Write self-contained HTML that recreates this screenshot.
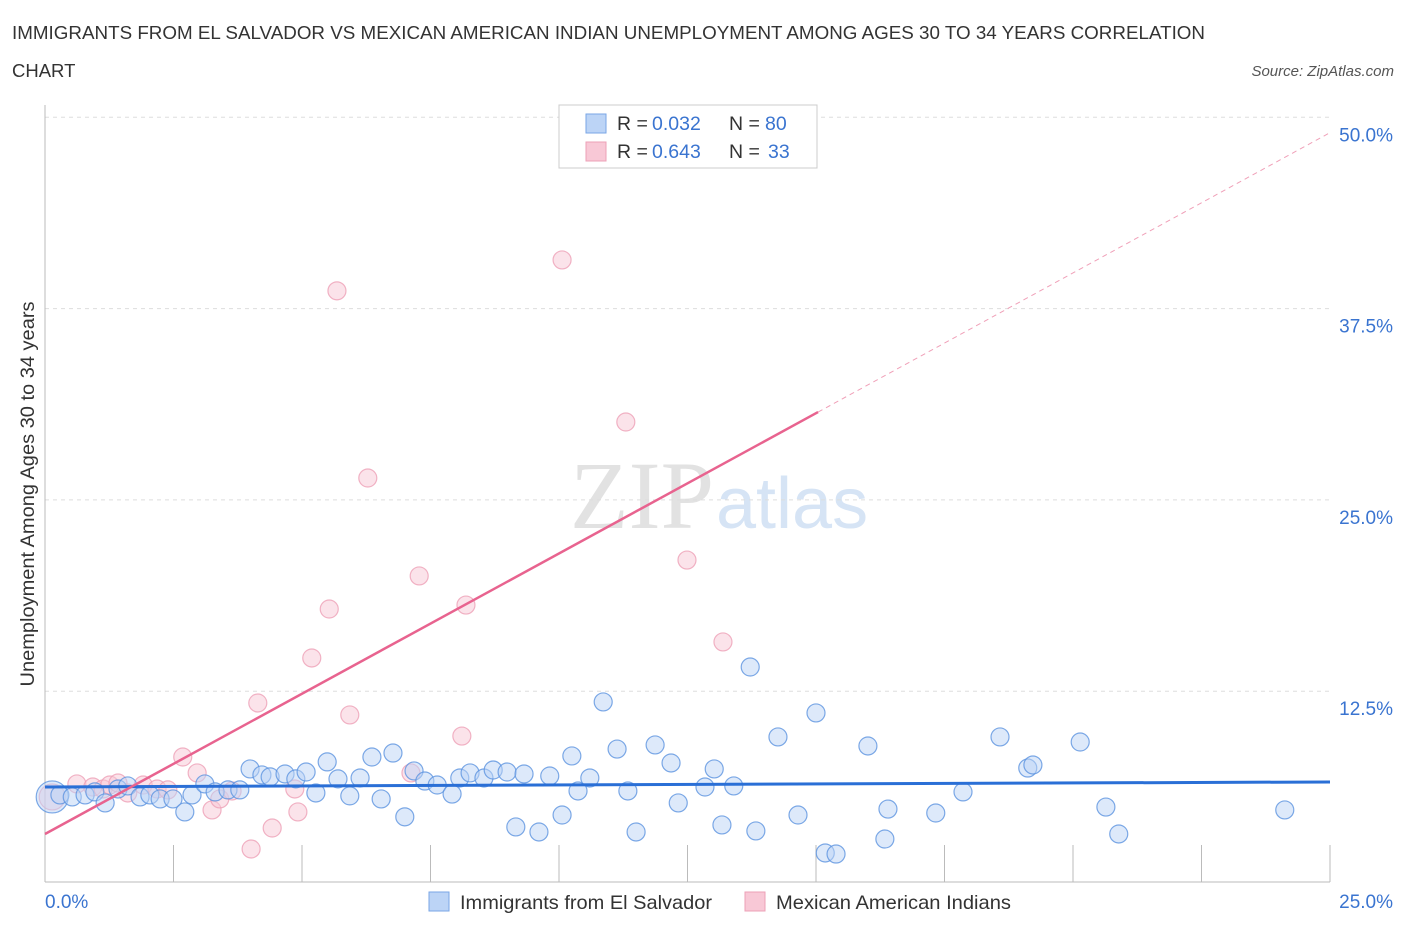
<!DOCTYPE html>
<html><head><meta charset="utf-8"><style>
body{margin:0;background:#fff;font-family:"Liberation Sans",sans-serif;}
svg{display:block}
</style></head><body>
<svg id="chart" width="1406" height="930" xmlns="http://www.w3.org/2000/svg">
<text x="12" y="39" font-size="18.5" fill="#333" textLength="1193" lengthAdjust="spacingAndGlyphs">IMMIGRANTS FROM EL SALVADOR VS MEXICAN AMERICAN INDIAN UNEMPLOYMENT AMONG AGES 30 TO 34 YEARS CORRELATION</text>
<text x="12" y="77" font-size="18.5" fill="#333">CHART</text>
<text x="1394" y="76" font-size="15" fill="#555" font-style="italic" text-anchor="end">Source: ZipAtlas.com</text>
<text x="714" y="528" font-size="96" fill="#e2e2e2" text-anchor="end" font-family="Liberation Serif,serif">ZIP</text>
<text x="716" y="528" font-size="72" fill="#d6e4f5">atlas</text>
<g id="grid"></g>
<g id="axes"></g>
<g id="marks"></g>
<text transform="translate(34,494) rotate(-90)" font-size="19" fill="#333" text-anchor="middle" textLength="385" lengthAdjust="spacingAndGlyphs">Unemployment Among Ages 30 to 34 years</text>
<text x="45" y="908" font-size="19" fill="#3a74d0">0.0%</text>
<text x="1393" y="908" font-size="19" fill="#3a74d0" text-anchor="end">25.0%</text>
<g>
<rect x="559" y="105" width="258" height="63" fill="#fff" stroke="#ccc"/>
<rect x="586" y="114" width="20" height="19" fill="#bcd4f6" stroke="#7aa6e6"/>
<text x="617" y="130" font-size="19.5" fill="#333">R =</text>
<text x="652" y="130" font-size="19.5" fill="#3a74d0">0.032</text>
<text x="729" y="130" font-size="19.5" fill="#333">N =</text>
<text x="765" y="130" font-size="19.5" fill="#3a74d0">80</text>
<rect x="586" y="142" width="20" height="19" fill="#f8c8d6" stroke="#eda0b7"/>
<text x="617" y="158" font-size="19.5" fill="#333">R =</text>
<text x="652" y="158" font-size="19.5" fill="#3a74d0">0.643</text>
<text x="729" y="158" font-size="19.5" fill="#333">N =</text>
<text x="768" y="158" font-size="19.5" fill="#3a74d0">33</text>
</g>
<g>
<rect x="429" y="892" width="20" height="19" fill="#bcd4f6" stroke="#7aa6e6"/>
<text x="460" y="909" font-size="19.5" fill="#333" textLength="252" lengthAdjust="spacingAndGlyphs">Immigrants from El Salvador</text>
<rect x="745" y="892" width="20" height="19" fill="#f8c8d6" stroke="#eda0b7"/>
<text x="776" y="909" font-size="19.5" fill="#333" textLength="235" lengthAdjust="spacingAndGlyphs">Mexican American Indians</text>
</g>
</svg>
<script>
const blueX=[0.14,0.29,0.53,0.78,0.97,1.17,1.42,1.61,1.85,2.04,2.24,2.49,2.72,2.86,3.11,3.31,3.56,3.79,3.99,4.22,4.38,4.67,4.88,5.08,5.27,5.49,5.7,5.93,6.13,6.36,6.54,6.77,7.0,7.18,7.39,7.63,7.92,8.07,8.27,8.54,8.72,8.99,9.16,9.32,9.61,9.82,10.06,10.25,10.37,10.6,10.86,11.13,11.34,11.5,11.87,12.18,12.32,12.84,13.02,13.17,13.4,13.72,13.83,14.26,14.65,15.0,15.18,15.39,16.01,16.34,16.4,17.33,17.86,18.58,19.12,19.22,20.14,20.64,20.89,24.12];
const blueY=[5.59,5.72,5.59,5.72,5.92,5.2,6.11,6.31,5.59,5.72,5.46,5.46,4.61,5.72,6.44,5.92,6.05,6.05,7.42,7.03,6.9,7.09,6.77,7.22,5.85,7.88,6.77,5.66,6.83,8.2,5.46,8.46,4.29,7.29,6.63,6.37,5.78,6.83,7.16,6.83,7.35,7.22,3.63,7.09,3.3,6.96,4.41,8.27,5.98,6.83,11.8,8.72,5.98,3.3,8.99,7.81,5.2,6.24,7.42,3.76,6.31,14.08,3.37,9.51,4.41,11.08,1.93,1.86,8.92,2.84,4.8,4.54,5.92,9.51,7.48,7.68,9.18,4.93,3.17,4.74];
const pinkX=[0.14,0.62,0.93,1.13,1.26,1.42,1.61,1.91,2.18,2.39,2.68,2.96,3.25,3.4,3.64,4.14,4.01,4.42,4.86,4.92,5.19,5.53,5.68,5.93,6.28,7.12,7.28,8.11,8.19,10.06,11.3,12.49,13.19];
const pinkY=[5.59,6.44,6.24,6.11,6.37,6.5,5.85,6.37,6.11,6.05,8.2,7.16,4.74,5.46,5.98,11.73,2.19,3.56,6.11,4.61,14.67,17.87,38.66,10.95,26.43,7.16,20.03,9.57,18.13,40.68,30.09,21.07,15.72];
const yTicks=[12.5,25,37.5,50];
const yTickLabels=["12.5%","25.0%","37.5%","50.0%"];
const xTicks=[0,2.5,5,7.5,10,12.5,15,17.5,20,22.5,25];
const blueFit=[6.24,6.57];
const pinkFit=[3.17,1.833];
const NS="http://www.w3.org/2000/svg";
const X=v=>45+v*51.4, Y=v=>882.5-v*15.304;
function mk(tag,attrs,parent){const e=document.createElementNS(NS,tag);for(const k in attrs)e.setAttribute(k,attrs[k]);parent.appendChild(e);return e;}
const grid=document.getElementById('grid'),axes=document.getElementById('axes'),marks=document.getElementById('marks');
yTicks.forEach((t,i)=>{
 const l=mk('line',{x1:45,x2:1330,y1:Y(t),y2:Y(t),stroke:'#ddd','stroke-dasharray':'4,4'},grid);
 
 
 const tx=mk('text',{x:1393,y:Y(t)+24,'font-size':19,fill:'#3a74d0','text-anchor':'end'},grid);
 tx.textContent=yTickLabels[i];
 
 
});
const ya=mk('line',{x1:45,x2:45,y1:105,y2:882,stroke:'#bbb'},axes);


const xa=mk('line',{x1:45,x2:1330,y1:882,y2:882,stroke:'#bbb'},axes);


xTicks.forEach(t=>{const l=mk('line',{x1:X(t),x2:X(t),y1:845,y2:882,stroke:'#bbb'},axes);
 
 });
function pts(xs,ys,fill,stroke,name){xs.forEach((x,i)=>{
 const r=(i===0)?(name==='blue-point'?16:13):9;
 const c=mk('circle',{cx:X(x),cy:Y(ys[i]),r:r,fill:fill,'fill-opacity':0.5,stroke:stroke,'stroke-opacity':0.8,'stroke-width':1.2},marks);
 
 });}
pts(pinkX,pinkY,'#f8c8d6','#eda0b7','pink-point');
pts(blueX,blueY,'#bcd4f6','#5c93e0','blue-point');
const bl=mk('line',{x1:X(0),x2:X(25),y1:Y(blueFit[0]),y2:Y(blueFit[1]),stroke:'#2a6fd6','stroke-width':3},marks);


const pl=mk('line',{x1:X(0),x2:X(15.04),y1:Y(pinkFit[0]),y2:Y(pinkFit[0]+pinkFit[1]*15.04),stroke:'#e8638f','stroke-width':2.5},marks);


const pd=mk('line',{x1:X(15.04),x2:X(25),y1:Y(pinkFit[0]+pinkFit[1]*15.04),y2:Y(pinkFit[0]+pinkFit[1]*25),stroke:'#f0a0b8','stroke-width':1,'stroke-dasharray':'5,4'},marks);


</script>
</body></html>
